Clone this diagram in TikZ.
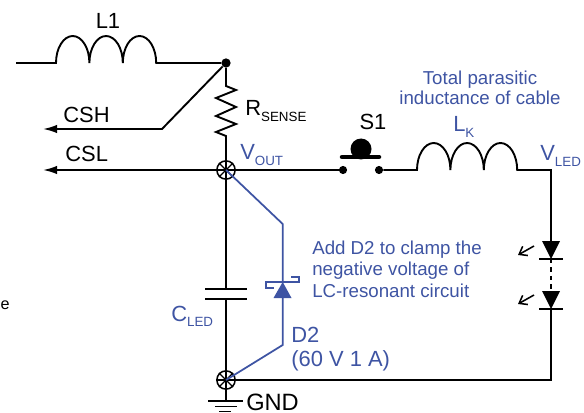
\documentclass[tikz,border=0pt]{standalone}
\usepackage{fontspec}
\setmainfont{Liberation Sans}
\usetikzlibrary{arrows.meta}
\definecolor{noteblue}{RGB}{62,84,163}
\newcommand{\subtxt}[1]{\raisebox{-0.45ex}{\fontsize{9.5pt}{11pt}\selectfont #1}}
\begin{document}
\begin{tikzpicture}[x=0.025cm,y=-0.025cm]

    \tikzset{
      wire/.style={line width=1.35pt,color=black},
      bluewire/.style={line width=1.25pt,color=noteblue},
      hump/.style={start angle=180,delta angle=180,x radius=16.7,y radius=27},
      dot/.style={circle,fill=black,inner sep=0pt,minimum size=6.6pt},
      xnode/.style={circle,draw,line width=1.1pt,inner sep=0pt,minimum size=13pt},
      lbl/.style={inner sep=0pt,font=\fontsize{15.6pt}{18pt}\selectfont},
      bluelbl/.style={lbl,text=noteblue},
      notelbl/.style={bluelbl,font=\fontsize{13.3pt}{14.5pt}\selectfont},
      pin/.style={-{Latex[length=10pt,width=6pt]},wire},
      ray/.style={-{Straight Barb[length=5pt,width=7.5pt]},line width=1.1pt},
    }
    \useasboundingbox (0,0) rectangle (584,413);

    % junctions
    \node[dot] (top) at (226,63) {};
    \node[xnode] (vout) at (226,170) {};
    \node[xnode] (gnd) at (226,380) {};
    \foreach \a/\b in {0/180,45/225,90/270,135/315}{
      \draw[line width=0.9pt] (vout.\a)--(vout.\b);
      \draw[line width=0.9pt] (gnd.\a)--(gnd.\b);
    }
    \coordinate (in) at (16,63);
    \coordinate (lonea) at (56,63);
    \coordinate (cshbend) at (162,129);
    \coordinate (cshend) at (43,129);
    \coordinate (cslend) at (43,170);
    \coordinate (rtop) at (226,86);
    \coordinate (rbot) at (226,136);
    \coordinate (capa) at (226,289);
    \coordinate (capb) at (226,299);
    \coordinate (lka) at (417,170);
    \coordinate (corner) at (551,170);
    \coordinate (ledatop) at (551,241);
    \coordinate (ledabot) at (551,259);
    \coordinate (ledbtop) at (551,291);
    \coordinate (ledbbot) at (551,309);
    \coordinate (corner2) at (551,380);
    \coordinate (dtop) at (282.7,224);
    \coordinate (dbot) at (282.7,345);
    \coordinate (dk) at (282.7,282);
    \coordinate (da) at (282.7,298);
    \coordinate (gndb) at (226,401);

    % L1 and sense resistor
    \draw[wire] (in)--(lonea) arc[hump] arc[hump] arc[hump]--(top);
    \draw[wire] (top)--(rtop)--(236,90)--(216,98)--(236,107)--(216,116)--(236,124)--(216,132)--(rbot)--(vout);
    \draw[pin] (top)--(cshbend)--(cshend);
    \draw[pin] (vout)--(cslend);

    % S1
    \node[dot,minimum size=5.8pt] (swa) at (343,170) {};
    \node[dot,minimum size=5.8pt] (swb) at (379,170) {};
    \draw[wire] (vout)--(swa);
    \draw[line width=3.2pt,line cap=round] (342,157)--(379,157);
    \fill (361,149) circle[radius=10.5];

    % LK and LED string
    \draw[wire] (swb)--(lka) arc[hump] arc[hump] arc[hump]--(corner)--(ledatop);
    \fill (542,241)--(560,241)--(ledabot)--cycle;
    \draw[wire] (539,259)--(563,259);
    \draw[wire,dashed,line width=1pt] (ledabot)--(ledbtop);
    \fill (542,291)--(560,291)--(ledbbot)--cycle;
    \draw[wire] (539,309)--(563,309);
    \draw[wire] (ledbbot)--(corner2)--(gnd);
    \draw[ray] (534,246)--(518,255);
    \draw[ray] (534,295)--(518,304);

    % CLED and ground
    \draw[wire] (vout)--(capa);
    \draw[wire] (capb)--(gnd);
    \draw[wire] (205,289)--(247,289);
    \draw[wire] (205,299)--(247,299);
    \draw[wire] (gnd)--(gndb);
    \draw[wire] (208,401)--(243,401);
    \draw[wire] (215,406.5)--(237,406.5);
    \draw[wire] (219,411.5)--(231,411.5);

    % D2
    \draw[bluewire] (vout.center)--(dtop)--(dk);
    \draw[bluewire] (da)--(dbot)--(gnd.center);
    \fill[noteblue] (273.5,298)--(291.5,298)--(dk)--cycle;
    \draw[bluewire] (291,277)--(299,277)--(299,282)--(266,282)--(266,288)--(274,288);

    % labels
    \node[lbl] (lonelbl) at (108,21) {L1};
    \node[lbl,anchor=west] (cshlbl) at (63,115) {CSH};
    \node[lbl,anchor=west] (csllbl) at (65,154) {CSL};
    \node[lbl,anchor=west] (rlbl) at (245,111) {R\subtxt{SENSE}};
    \node[bluelbl,anchor=west] (voutlbl) at (240,155) {V\subtxt{OUT}};
    \node[lbl] (slbl) at (373,122) {S1};
    \node[notelbl,align=center] (cablelbl) at (480,88) {Total parasitic\\inductance of cable};
    \node[bluelbl,anchor=west] (lklbl) at (453,127) {L\subtxt{K}};
    \node[bluelbl,anchor=west] (vledlbl) at (540,156) {V\subtxt{LED}};
    \node[notelbl,anchor=north west,align=left,font=\fontsize{13.3pt}{15pt}\selectfont] (notelbl) at (312,241) {Add D2 to clamp the\\negative voltage of\\LC-resonant circuit};
    \node[bluelbl,anchor=west] (cledlbl) at (171,316) {C\subtxt{LED}};
    \node[bluelbl,anchor=west] (dlbl) at (291,335) {D2};
    \node[bluelbl,anchor=west] (ratelbl) at (291,361) {(60 V 1 A)};
    \node[lbl,anchor=west,font=\fontsize{16.8pt}{18pt}\selectfont] (gndlbl) at (246,402) {GND};
    \node[inner sep=0pt,font=\fontsize{11.5pt}{13pt}\selectfont] (stray) at (5,305) {e};

\end{tikzpicture}
\end{document}
